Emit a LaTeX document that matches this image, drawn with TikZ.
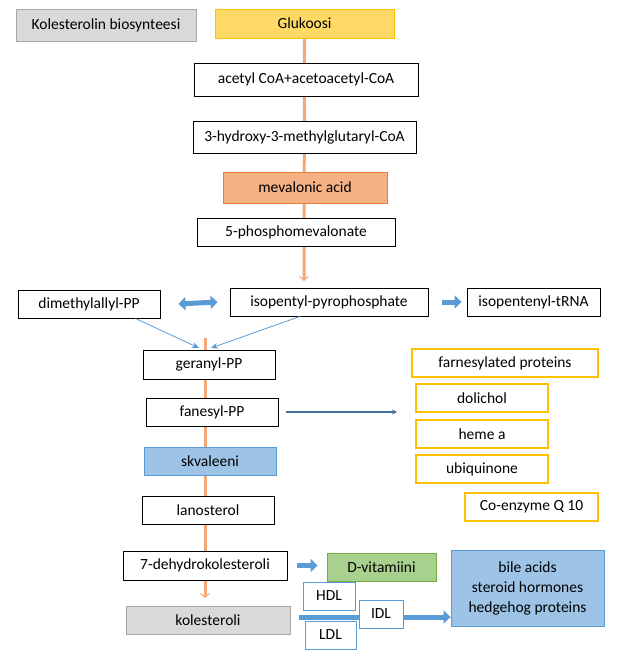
\documentclass[tikz,border=0pt]{standalone}
\usepackage{fontspec}
\setmainfont{Carlito}
\usetikzlibrary{arrows.meta,backgrounds}

\definecolor{grayfill}{HTML}{D9D9D9}
\definecolor{grayline}{HTML}{A6A6A6}
\definecolor{goldfill}{HTML}{FFD966}
\definecolor{goldline}{HTML}{FFC000}
\definecolor{salmonfill}{HTML}{F4B183}
\definecolor{salmonline}{HTML}{ED7D31}
\definecolor{bluefill}{HTML}{9DC3E6}
\definecolor{blueline}{HTML}{5B9BD5}
\definecolor{darkblue}{HTML}{41719C}
\definecolor{greenfill}{HTML}{A9D18E}
\definecolor{greenline}{HTML}{70AD47}

\tikzset{
  box/.style={draw=black, line width=0.9pt, fill=white, minimum height=28pt,
    inner sep=0pt, font=\fontsize{15.5}{18}\selectfont},
  graybox/.style={box, draw=grayline, fill=grayfill},
  goldbox/.style={box, draw=goldline, fill=goldfill},
  yellowbox/.style={box, draw=goldline, line width=1.1pt},
  salmonbox/.style={box, draw=salmonline, fill=salmonfill},
  bluebox/.style={box, draw=blueline, fill=bluefill},
  greenbox/.style={box, draw=greenline, fill=greenfill},
  lipobox/.style={box, draw=blueline},
  shaft/.style={draw=salmonfill!85!salmonline, line width=3pt,
    -{Straight Barb[length=4pt,width=9pt,line width=1pt]}},
  thinblue/.style={draw=blueline, line width=0.8pt, -{Stealth[length=7pt,width=6pt]}},
  fatblue/.style={draw=blueline, line width=5pt, -{Triangle[length=7pt,width=13pt]}},
  longblue/.style={draw=darkblue, line width=1.6pt, -{Stealth[length=5pt,width=5pt]}},
}

\begin{document}
\begin{tikzpicture}[x=1pt,y=-1pt]
\useasboundingbox (0,0) rectangle (643,658);

\node[graybox, minimum width=180pt, minimum height=32pt] (title) at (106,25) {Kolesterolin biosynteesi};
\node[goldbox, minimum width=179pt, minimum height=29pt] (gluk) at (304.5,23.5) {Glukoosi};
\node[box, minimum width=224pt, minimum height=33pt] (acetyl) at (306,79.5) {acetyl CoA+acetoacetyl-CoA};
\node[box, minimum width=223pt, minimum height=32pt] (hmg) at (304.5,137) {3-hydroxy-3-methylglutaryl-CoA};
\node[salmonbox, minimum width=164pt, minimum height=31pt] (meva) at (305,187.5) {mevalonic acid};
\node[box, minimum width=198pt] (phospho) at (296,232) {5-phosphomevalonate};

\node[box, minimum width=198pt] (ipp) at (329,302) {isopentyl-pyrophosphate};
\node[box, minimum width=142pt] (dmapp) at (89,304) {dimethylallyl-PP};
\node[box, minimum width=133pt] (trna) at (533.5,302) {isopentenyl-tRNA};

\node[box, minimum width=132pt, minimum height=29pt] (geranyl) at (209,364.5) {geranyl-PP};
\node[box, minimum width=132pt] (fanesyl) at (212,412) {fanesyl-PP};
\node[bluebox, minimum width=132pt] (skval) at (210,461) {skvaleeni};
\node[box, minimum width=132pt] (lano) at (208,510) {lanosterol};
\node[box, minimum width=164pt, minimum height=29pt] (dehydro) at (205,565.5) {7-dehydrokolesteroli};
\node[graybox, minimum width=164pt] (kol) at (208,620) {kolesteroli};

\node[yellowbox, minimum width=186pt] (farnprot) at (505,363) {farnesylated proteins};
\node[yellowbox, minimum width=132pt] (dolichol) at (482,398) {dolichol};
\node[yellowbox, minimum width=132pt] (heme) at (482,434) {heme a};
\node[yellowbox, minimum width=132pt] (ubiq) at (482,469) {ubiquinone};
\node[yellowbox, minimum width=133pt] (coq) at (531.5,507) {Co-enzyme Q 10};

\node[greenbox, minimum width=109pt] (dvit) at (381.5,567) {D-vitamiini};
\node[lipobox, minimum width=52pt] (hdl) at (329,596) {HDL};
\node[lipobox, minimum width=51pt] (ldl) at (330.5,635) {LDL};
\node[bluebox, minimum width=153pt, minimum height=76pt, align=center,
  font=\fontsize{15.5}{20}\selectfont] (bile) at (527.5,588)
  {bile acids\\steroid hormones\\hedgehog proteins};

\coordinate (ipptop) at (304,281);
\coordinate (shafttop) at (205,338);
\coordinate (shaftend) at (205,598);
\coordinate (gerleft) at (199,348);
\coordinate (gerright) at (211,348);
\coordinate (fanend) at (397,411);
\coordinate (lipostart) at (299,617);

\begin{scope}[on background layer]
\draw[shaft] (gluk.south) -- (ipptop);
\draw[shaft] (shafttop) -- (shaftend);
\end{scope}

\draw[fatblue] (lipostart) -- (bile.west |- lipostart);
\node[lipobox, minimum width=44pt] (idl) at (381,614) {IDL};

\draw[thinblue] (dmapp.south east) ++(-25,0) -- (gerleft);
\draw[thinblue] (ipp.south) ++(-29,0) -- (gerright);
\draw[fatblue, {Triangle[length=7pt,width=13pt]}-{Triangle[length=7pt,width=13pt]}]
  (dmapp.east) ++(18,0) -- ([xshift=-12pt]ipp.west);
\draw[fatblue] ([xshift=14pt]ipp.east) -- ([xshift=-5pt]trna.west);
\draw[longblue] ([xshift=8pt]fanesyl.east) -- (fanend |- fanesyl.east);
\draw[fatblue] ([xshift=10pt]dehydro.east) -- ([xshift=-9pt]dvit.west |- dehydro.east);
\end{tikzpicture}
\end{document}
